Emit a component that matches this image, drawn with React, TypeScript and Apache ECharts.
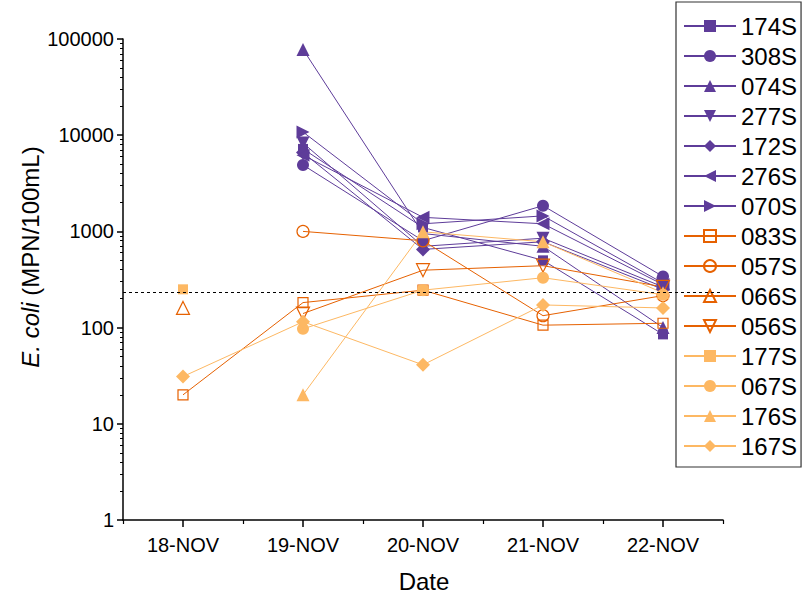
import React, { useEffect, useRef } from "react";
import * as echarts from "echarts";

const dates = ["18-NOV", "19-NOV", "20-NOV", "21-NOV", "22-NOV"];
const yTickValues = [1, 10, 100, 1000, 10000, 100000];
const standardLimit = 235;

const s174S = [null, 7200, 1100, 500, 85];
const s308S = [null, 4900, 800, 1850, 340];
const s074S = [null, 78000, 950, 700, 100];
const s277S = [null, 8300, 700, 850, 265];
const s172S = [null, 6600, 650, 780, 250];
const s276S = [null, 6200, 1400, 1200, 280];
const s070S = [null, 10800, 1200, 1450, 290];
const s083S = [20, 182, 245, 106, 111];
const s057S = [null, 1000, 800, 133, 215];
const s066S = [160, null, null, null, null];
const s056S = [null, 140, 395, 440, 265];
const s177S = [250, null, 245, null, null];
const s067S = [null, 97, 245, 330, 220];
const s176S = [null, 20, 990, 780, 230];
const s167S = [31, 115, 41, 172, 160];

const PURPLE = "#5e3c99";
const DKOR = "#e66101";
const LTOR = "#fdb863";
const FONT = "'Liberation Sans', Arial, sans-serif";

type Def = {
  name: string;
  data: (number | null)[];
  color: string;
  symbol: string;
  size: number;
  rotate?: number;
  hollow?: boolean;
};

const defs: Def[] = [
  { name: "174S", data: s174S, color: PURPLE, symbol: "rect", size: 10 },
  { name: "308S", data: s308S, color: PURPLE, symbol: "circle", size: 12 },
  { name: "074S", data: s074S, color: PURPLE, symbol: "triangle", size: 13 },
  { name: "277S", data: s277S, color: PURPLE, symbol: "triangle", size: 13, rotate: 180 },
  { name: "172S", data: s172S, color: PURPLE, symbol: "diamond", size: 14 },
  { name: "276S", data: s276S, color: PURPLE, symbol: "triangle", size: 13, rotate: 90 },
  { name: "070S", data: s070S, color: PURPLE, symbol: "triangle", size: 13, rotate: -90 },
  { name: "083S", data: s083S, color: DKOR, symbol: "rect", size: 10, hollow: true },
  { name: "057S", data: s057S, color: DKOR, symbol: "circle", size: 12, hollow: true },
  { name: "066S", data: s066S, color: DKOR, symbol: "triangle", size: 13, hollow: true },
  { name: "056S", data: s056S, color: DKOR, symbol: "triangle", size: 13, rotate: 180, hollow: true },
  { name: "177S", data: s177S, color: LTOR, symbol: "rect", size: 10 },
  { name: "067S", data: s067S, color: LTOR, symbol: "circle", size: 12 },
  { name: "176S", data: s176S, color: LTOR, symbol: "triangle", size: 13 },
  { name: "167S", data: s167S, color: LTOR, symbol: "diamond", size: 14 },
];

const minorY: number[] = [];
for (let e = 0; e < 5; e++) {
  for (let k = 2; k <= 9; k++) minorY.push(e + Math.log10(k));
}

export default function App() {
  const ref = useRef<HTMLDivElement>(null);
  useEffect(() => {
    if (!ref.current) return;
    const chart = echarts.init(ref.current, undefined, { renderer: "svg" });
    const series: any[] = defs.map((d, i) => ({
      name: d.name,
      type: "line",
      xAxisIndex: 0,
      yAxisIndex: 0,
      data: d.data,
      symbol: d.symbol,
      symbolSize: d.size,
      symbolRotate: d.rotate || 0,
      showAllSymbol: true,
      connectNulls: false,
      lineStyle: { color: d.color, width: 1 },
      itemStyle: d.hollow
        ? { color: "rgba(255,255,255,0)", borderColor: d.color, borderWidth: 1.2 }
        : { color: d.color },
      emphasis: { disabled: true },
      markLine:
        i === 0
          ? {
              silent: true,
              symbol: "none",
              label: { show: false },
              lineStyle: { color: "#000", width: 1, type: [3, 3] },
              data: [{ yAxis: standardLimit }],
            }
          : undefined,
    }));
    chart.setOption({
      animation: false,
      backgroundColor: "#fff",
      grid: { left: 123, right: 81, top: 39, bottom: 78, containLabel: false },
      xAxis: [
        {
          type: "category",
          data: dates,
          boundaryGap: true,
          axisLine: { show: true, lineStyle: { color: "#000", width: 1.5 } },
          axisTick: { show: true, alignWithLabel: true, length: 7, lineStyle: { color: "#000", width: 1.5 } },
          axisLabel: { color: "#000", fontSize: 20, fontFamily: FONT, margin: 15 },
          splitLine: { show: false },
        },
        {
          type: "value",
          min: 0,
          max: 5,
          interval: 1,
          position: "bottom",
          axisLine: { show: false },
          axisTick: { show: true, length: 4, lineStyle: { color: "#000", width: 1.2 } },
          axisLabel: { show: false },
          splitLine: { show: false },
        },
      ],
      yAxis: [
        {
          type: "log",
          logBase: 10,
          min: 1,
          max: 100000,
          axisLine: { show: true, lineStyle: { color: "#000", width: 1.5 } },
          axisTick: { show: true, length: 6, lineStyle: { color: "#000", width: 1.5 } },
          axisLabel: {
            color: "#000",
            fontSize: 20,
            fontFamily: FONT,
            margin: 9,
            customValues: yTickValues,
            formatter: (v: number) => String(Math.round(v)),
          },
          splitLine: { show: false },
        },
        {
          type: "value",
          min: 0,
          max: 5,
          position: "left",
          axisLine: { show: false },
          axisTick: { show: true, length: 3, customValues: minorY, lineStyle: { color: "#000", width: 1 } },
          axisLabel: { show: false },
          splitLine: { show: false },
        },
      ],
      legend: {
        orient: "vertical",
        left: 676,
        top: 2,
        padding: [12, 4, 9, 7],
        itemGap: 6,
        itemWidth: 52,
        itemHeight: 15,
        backgroundColor: "#fff",
        borderColor: "#333",
        borderWidth: 1.2,
        borderRadius: 0,
        selectedMode: false,
        textStyle: { color: "#000", fontSize: 24, fontFamily: FONT, lineHeight: 24 },
        data: defs.map((d) => d.name),
      },
      graphic: [
        {
          type: "text",
          x: 30,
          y: 257,
          rotation: Math.PI / 2,
          style: {
            text: "{i|E. coli} (MPN/100mL)",
            fill: "#000",
            fontSize: 24,
            fontFamily: FONT,
            align: "center",
            verticalAlign: "middle",
            rich: { i: { fontStyle: "italic", fontSize: 24, fontFamily: FONT, fill: "#000" } },
          },
        },
        {
          type: "text",
          x: 424,
          y: 581,
          style: {
            text: "Date",
            fill: "#000",
            fontSize: 24,
            fontFamily: FONT,
            align: "center",
            verticalAlign: "middle",
          },
        },
      ],
      series,
    });
    return () => chart.dispose();
  }, []);
  return <div ref={ref} style={{ width: 804, height: 598, position: "absolute", left: 0, top: 0 }} />;
}
